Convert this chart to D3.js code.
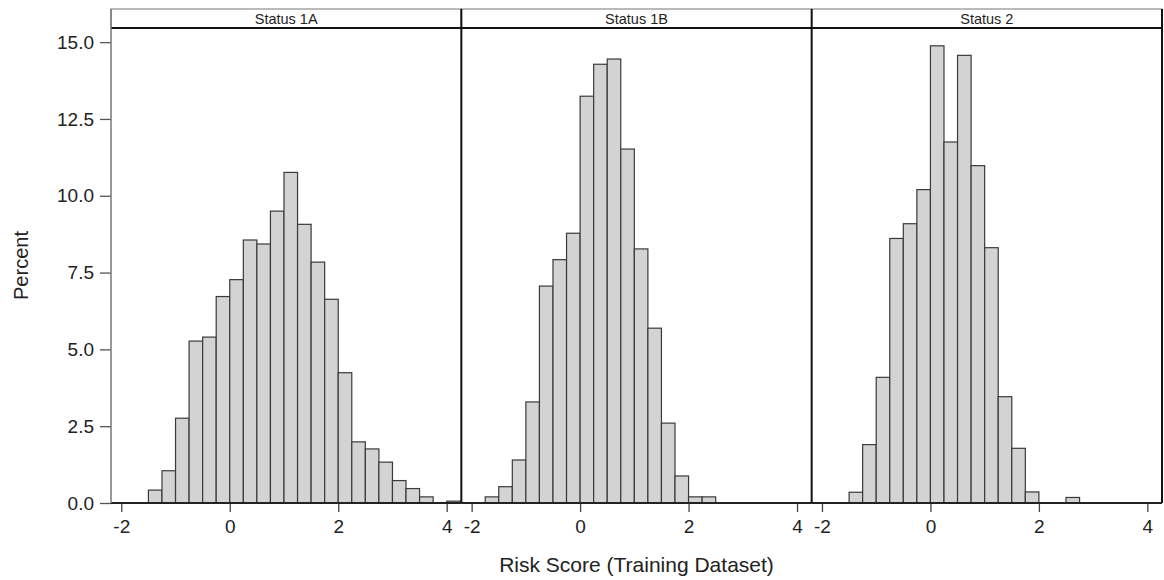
<!DOCTYPE html>
<html>
<head>
<meta charset="utf-8">
<script src="https://cdn.jsdelivr.net/npm/d3@7"></script>
<style>
  body { margin: 0; background: #fff; }
  text { font-family: "Liberation Sans", Arial, sans-serif; fill: #222; }
</style>
</head>
<body>
<svg id="chart"></svg>
<script>
// panel labels and histogram bins (percent per 0.25-wide bin)
const panels = ['Status 1A', 'Status 1B', 'Status 2'];
const binWidth = 0.25;
const binStarts = [-1.75, -1.5, -1.25, -1, -0.75, -0.5, -0.25, 0, 0.25, 0.5, 0.75, 1,
  1.25, 1.5, 1.75, 2, 2.25, 2.5, 2.75, 3, 3.25, 3.5, 3.75, 4];

const status1A = [0, 0.42, 1.05, 2.76, 5.27, 5.4, 6.72, 7.27, 8.56, 8.43, 9.5, 10.76,
  9.07, 7.84, 6.63, 4.24, 1.99, 1.76, 1.33, 0.73, 0.47, 0.2, 0, 0.06];
const status1B = [0.2, 0.53, 1.4, 3.29, 7.06, 7.92, 8.78, 13.24, 14.28, 14.45, 11.52, 8.27,
  5.69, 2.6, 0.88, 0.2, 0.2, 0, 0, 0, 0, 0, 0, 0];
const status2 = [0, 0.35, 1.9, 4.09, 8.61, 9.09, 10.2, 14.88, 11.75, 14.57, 10.98, 8.31,
  3.46, 1.78, 0.36, 0, 0, 0.18, 0, 0, 0, 0, 0, 0];

const yTicks = [0, 2.5, 5, 7.5, 10, 12.5, 15];
const xTicks = [-2, 0, 2, 4];

const seriesList = [status1A, status1B, status2];

const width = 1164, height = 580;
const dims = {
  left: 111, right: 1162,
  headerTop: 9, top: 28, bottom: 503
};
const panelWidth = (dims.right - dims.left) / panels.length;

const svg = d3.select('#chart')
  .attr('width', width)
  .attr('height', height);

const y = d3.scaleLinear()
  .domain([0, 15.46])
  .range([dims.bottom, dims.top]);

panels.forEach((name, i) => {
  const x0 = dims.left + i * panelWidth;
  const x = d3.scaleLinear()
    .domain([-2.19, 4.27])
    .range([x0, x0 + panelWidth]);

  const g = svg.append('g');

  const bins = binStarts.map((b, j) => ({ start: b, value: seriesList[i][j] }))
    .filter(d => d.value > 0);

  g.selectAll('.bar')
    .data(bins)
    .enter().append('rect')
    .attr('class', 'bar')
    .attr('x', d => x(d.start))
    .attr('y', d => y(d.value))
    .attr('width', d => x(d.start + binWidth) - x(d.start))
    .attr('height', d => y(0) - y(d.value))
    .attr('fill', '#d3d3d3')
    .attr('stroke', '#3a3a3a')
    .attr('stroke-width', 1.2);

  // x axis
  const xAxis = d3.axisBottom(x)
    .tickValues(xTicks)
    .tickSize(9)
    .tickPadding(8)
    .tickFormat(d3.format('d'));

  const ax = g.append('g')
    .attr('transform', `translate(0,${dims.bottom})`)
    .call(xAxis);
  ax.select('.domain').remove();
  ax.selectAll('.tick line').attr('stroke', '#444').attr('stroke-width', 1.3);
  ax.selectAll('.tick text')
    .style('font-size', '19px')
    .attr('fill', '#222')
    .text(d => d < 0 ? '-' + Math.abs(d) : d);

  g.append('line')
    .attr('x1', x0).attr('x2', x0 + panelWidth)
    .attr('y1', dims.bottom).attr('y2', dims.bottom)
    .attr('stroke', '#222')
    .attr('stroke-width', 2);

  // header strip
  g.append('rect')
    .attr('x', x0).attr('y', dims.headerTop)
    .attr('width', panelWidth).attr('height', dims.top - dims.headerTop)
    .attr('fill', '#fff')
    .attr('stroke', '#777')
    .attr('stroke-width', 1);

  g.append('text')
    .attr('x', x0 + panelWidth / 2)
    .attr('y', 24)
    .attr('text-anchor', 'middle')
    .style('font-size', '14.5px')
    .attr('fill', '#333')
    .text(name);
});

// header bottom line
svg.append('line')
  .attr('x1', dims.left).attr('x2', dims.right)
  .attr('y1', dims.top).attr('y2', dims.top)
  .attr('stroke', '#111').attr('stroke-width', 2);

// panel separators and right border
[1, 2, 3].forEach(i => {
  const xp = dims.left + i * panelWidth;
  svg.append('line')
    .attr('x1', xp).attr('x2', xp)
    .attr('y1', dims.headerTop).attr('y2', dims.bottom)
    .attr('stroke', '#111').attr('stroke-width', 2);
});

// y axis
const yAxis = d3.axisLeft(y)
  .tickValues(yTicks)
  .tickSize(11)
  .tickPadding(6)
  .tickFormat(d3.format('.1f'));

const ay = svg.append('g')
  .attr('transform', `translate(${dims.left},0)`)
  .call(yAxis);
ay.select('.domain').remove();
ay.selectAll('.tick line').attr('stroke', '#555').attr('stroke-width', 1.3);
ay.selectAll('.tick text').style('font-size', '19px').attr('fill', '#222');

svg.append('line')
  .attr('x1', dims.left).attr('x2', dims.left)
  .attr('y1', dims.headerTop).attr('y2', dims.bottom)
  .attr('stroke', '#777').attr('stroke-width', 1.5);

// axis titles
svg.append('text')
  .attr('x', (dims.left + dims.right) / 2)
  .attr('y', 572)
  .attr('text-anchor', 'middle')
  .style('font-size', '21px')
  .text('Risk Score (Training Dataset)');

svg.append('text')
  .attr('transform', `translate(28,${(dims.top + dims.bottom) / 2}) rotate(-90)`)
  .attr('text-anchor', 'middle')
  .style('font-size', '20px')
  .text('Percent');
</script>
</body>
</html>
